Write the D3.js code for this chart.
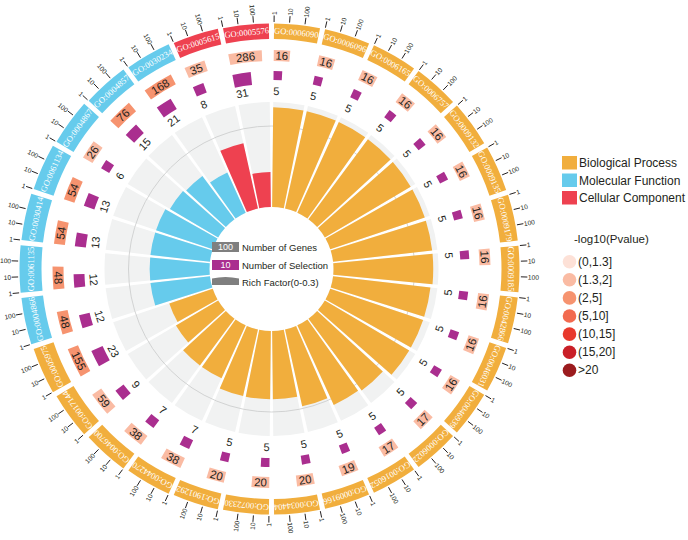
<!DOCTYPE html>
<html><head><meta charset="utf-8">
<script src="https://cdn.jsdelivr.net/npm/d3@7"></script>
<style>body{margin:0;background:#fff} svg{display:block}</style>
</head><body><svg id="chart" width="688" height="540"></svg>
<script>
// ---------------- data ----------------
const goIds = ["GO:0006090","GO:0006096","GO:0006165","GO:0006757","GO:0009132","GO:0009135","GO:0009179","GO:0009185","GO:0042866","GO:0046031","GO:0046939","GO:0006022","GO:0016052","GO:0009166","GO:0034404","GO:0072330","GO:1901292","GO:0044270","GO:0046700","GO:0017144","GO:0005975","GO:0004866","GO:0061135","GO:0030414","GO:0061134","GO:0004867","GO:0004857","GO:0030234","GO:0005615","GO:0005576"];
const ontology = ["BP","BP","BP","BP","BP","BP","BP","BP","BP","BP","BP","BP","BP","BP","BP","BP","BP","BP","BP","BP","BP","MF","MF","MF","MF","MF","MF","MF","CC","CC"];
const numGenes = [16,16,16,16,16,16,16,16,16,16,16,17,17,19,20,20,20,38,38,59,155,48,48,54,54,26,76,168,35,286];
const numSelection = [5,5,5,5,5,5,5,5,5,5,5,5,5,5,5,5,5,7,7,9,23,12,12,13,13,6,15,21,8,31];
const richFactor = [0.285,0.285,0.285,0.285,0.285,0.285,0.285,0.285,0.28,0.28,0.28,0.255,0.25,0.225,0.195,0.195,0.195,0.166,0.166,0.14,0.131,0.171,0.171,0.171,0.171,0.16,0.154,0.126,0.191,0.10];
const negLog10P = [1.6,1.6,1.6,1.6,1.6,1.6,1.6,1.6,1.6,1.6,1.6,1.6,1.6,1.6,1.6,1.6,1.6,1.6,1.6,1.6,3.0,3.0,3.0,3.0,3.0,1.6,3.0,3.0,1.6,1.6];
const tickValues = [1,10,100];
const ontologyKeys = ["BP","MF","CC"];
const ontologyNames = ["Biological Process","Molecular Function","Cellular Component"];
const ontologyColors = ["#F1AE3D","#66CBEC","#EE4150"];
const pBreaks = [1.3,2,5,10,15,20];
const pLabels = ["(0,1.3]","(1.3,2]","(2,5]","(5,10]","(10,15]","(15,20]",">20"];
const pColors = ["#FDE1D7","#FABBA3","#F6936F","#F26A4F","#E8392C","#C91F27","#9B1B1E"];
const legendItems = ["Number of Genes","Number of Selection","Rich Factor(0-0.3)"];
const legendValues = ["100","10"];

// ---------------- layout ----------------
const svg = d3.select("#chart");
const cx = 271.5, cy = 269;
const deg = Math.PI/180;
const g = svg.append("g").attr("transform",`translate(${cx},${cy})`);

const sector = d3.scaleBand().domain(goIds).range([0, 2*Math.PI]).paddingInner(0.1).paddingOuter(0.05);
const bw = sector.bandwidth();
const logPos = d3.scaleLog().domain([1,1000]).range([0,bw]);
const rfScale = d3.scaleLinear().domain([0,0.3]).range([62,167]);
const ontColor = d3.scaleOrdinal().domain(ontologyKeys).range(ontologyColors);
const pColor = d3.scaleThreshold().domain(pBreaks).range(pColors);
const selHeight = d3.scaleLog().domain([5,31]).range([9,13]);

const idx = d3.range(goIds.length);
const pt = (r,a)=>[r*Math.sin(a), -r*Math.cos(a)];
const norm = a => { let d = (a/deg)%360; if(d<0) d+=360; return d; };
const readable = a => { const d = norm(a); return (d>90 && d<270) ? d-180 : d; };
const isFlip = a => { const d = norm(a); return d>90 && d<270; };

// label ring thickness by angle
const rIn = 230;
const thick = i => { const a = sector(goIds[i]) + bw/2; const d = norm(a); const s = Math.sin(a); return 15.5 + s*s*(d>180 ? 6.5 : 2.5); };

const arc = d3.arc();

// grey background sectors
g.selectAll("path.bg").data(idx).join("path").attr("class","bg")
  .attr("d", i => arc({innerRadius:62, outerRadius:167, startAngle:sector(goIds[i]), endAngle:sector(goIds[i])+bw}))
  .attr("fill","#F1F2F2");

// grid circle
g.append("circle").attr("r",143).attr("fill","none").attr("stroke","#C9CACA").attr("stroke-width",0.8);

// rich factor bars
g.selectAll("path.rf").data(idx).join("path").attr("class","rf")
  .attr("d", i => arc({innerRadius:62, outerRadius:rfScale(Math.min(richFactor[i],0.3)), startAngle:sector(goIds[i]), endAngle:sector(goIds[i])+bw}))
  .attr("fill", i => ontColor(ontology[i]));

// gene-number ring
const geneR0 = 208, geneR1 = 219;
g.selectAll("path.gene").data(idx).join("path").attr("class","gene")
  .attr("d", i => arc({innerRadius:geneR0, outerRadius:geneR1, startAngle:sector(goIds[i]), endAngle:sector(goIds[i])+logPos(numGenes[i])}))
  .attr("fill", i => pColor(negLog10P[i]));
g.selectAll("text.gene").data(idx).join("text").attr("class","gene")
  .attr("transform", i => { const a = sector(goIds[i]) + logPos(numGenes[i])/2; const [x,y] = pt((geneR0+geneR1)/2, a); return `translate(${x},${y}) rotate(${readable(a)})`; })
  .attr("text-anchor","middle").attr("dominant-baseline","central")
  .attr("font-family","Liberation Sans, Arial, sans-serif").attr("font-size",11.5).attr("fill","#231F20")
  .text(i => numGenes[i]);

// selection ring
const selOut = 198;
g.selectAll("path.sel").data(idx).join("path").attr("class","sel")
  .attr("d", i => arc({innerRadius:selOut - selHeight(numSelection[i]), outerRadius:selOut, startAngle:sector(goIds[i]), endAngle:sector(goIds[i])+logPos(numSelection[i])}))
  .attr("fill","#AA2E8F");
g.selectAll("text.sel").data(idx).join("text").attr("class","sel")
  .attr("transform", i => { const a = sector(goIds[i]); const [x,y] = pt(178, a); return `translate(${x},${y}) rotate(${readable(a)})`; })
  .attr("text-anchor", i => isFlip(sector(goIds[i])) ? "end" : "start").attr("dominant-baseline","central")
  .attr("font-family","Liberation Sans, Arial, sans-serif").attr("font-size",11).attr("fill","#231F20")
  .text(i => numSelection[i]);

// GO label ring
g.selectAll("path.go").data(idx).join("path").attr("class","go")
  .attr("d", i => arc({innerRadius:rIn, outerRadius:rIn+thick(i), startAngle:sector(goIds[i]), endAngle:sector(goIds[i])+bw}))
  .attr("fill", i => ontColor(ontology[i]));
g.selectAll("text.go").data(idx).join("text").attr("class","go")
  .attr("transform", i => { const a = sector(goIds[i]) + bw/2; const [x,y] = pt(rIn+thick(i)/2, a); return `translate(${x},${y}) rotate(${a/deg})`; })
  .attr("text-anchor","middle").attr("dominant-baseline","central")
  .attr("font-family","Liberation Serif, Times New Roman, serif").attr("font-size",8.6).attr("fill","#fff")
  .text(i => goIds[i]);

// log axis ticks outside
const ticks = [];
idx.forEach(i => tickValues.forEach(v => ticks.push({i, v, a: sector(goIds[i]) + logPos(v), r: rIn + thick(i)})));
g.selectAll("line.tick").data(ticks).join("line").attr("class","tick")
  .attr("x1", d => pt(d.r+1.5, d.a)[0]).attr("y1", d => pt(d.r+1.5, d.a)[1])
  .attr("x2", d => pt(d.r+8, d.a)[0]).attr("y2", d => pt(d.r+8, d.a)[1])
  .attr("stroke","#231F20").attr("stroke-width",1);
g.selectAll("text.tick").data(ticks).join("text").attr("class","tick")
  .attr("transform", d => { const [x,y] = pt(d.r+8.5, d.a); const dd = norm(d.a); return `translate(${x},${y}) rotate(${dd<180 ? dd-90 : dd+90})`; })
  .attr("text-anchor", d => norm(d.a)<180 ? "start" : "end").attr("dominant-baseline","central")
  .attr("font-family","Liberation Sans, Arial, sans-serif").attr("font-size",6.6).attr("fill","#231F20")
  .text(d => d.v);

// ---------------- center legend ----------------
const lg = svg.append("g");
const lfont = "Liberation Sans, Arial, sans-serif";
lg.append("rect").attr("x",212).attr("y",242).attr("width",27).attr("height",10).attr("fill","#7F7F7F");
lg.append("text").attr("x",225.5).attr("y",247.3).attr("text-anchor","middle").attr("dominant-baseline","central")
  .attr("font-family",lfont).attr("font-size",9).attr("fill","#fff").text(legendValues[0]);
lg.append("rect").attr("x",212).attr("y",260).attr("width",27).attr("height",10).attr("fill","#AA2E8F");
lg.append("text").attr("x",225.5).attr("y",265.3).attr("text-anchor","middle").attr("dominant-baseline","central")
  .attr("font-family",lfont).attr("font-size",9).attr("fill","#fff").text(legendValues[1]);
lg.append("path").attr("d","M212,285 L212,278.5 Q225.5,275.5 239,278.5 L239,285 Z").attr("fill","#7F7F7F");
[247.3,265.3,282].forEach((y,k)=>{
  lg.append("text").attr("x",242).attr("y",y).attr("dominant-baseline","central")
    .attr("font-family",lfont).attr("font-size",9.5).attr("fill","#231F20").text(legendItems[k]);
});

// ---------------- right legend ----------------
const rl = svg.append("g");
ontologyNames.forEach((n,k)=>{
  const y = 156 + k*17.5;
  rl.append("rect").attr("x",562).attr("y",y).attr("width",15).attr("height",13.5).attr("fill",ontologyColors[k]);
  rl.append("text").attr("x",579).attr("y",y+7).attr("dominant-baseline","central")
    .attr("font-family",lfont).attr("font-size",12).attr("fill","#231F20").text(n);
});
rl.append("text").attr("x",574).attr("y",239).attr("dominant-baseline","central")
  .attr("font-family",lfont).attr("font-size",11.5).attr("fill","#231F20").text("-log10(Pvalue)");
pLabels.forEach((l,k)=>{
  const y = 261.7 + k*18.1;
  rl.append("circle").attr("cx",569.5).attr("cy",y).attr("r",6.8).attr("fill",pColors[k]);
  rl.append("text").attr("x",578).attr("y",y).attr("dominant-baseline","central")
    .attr("font-family",lfont).attr("font-size",12).attr("fill","#231F20").text(l);
});
</script>
</body></html>
